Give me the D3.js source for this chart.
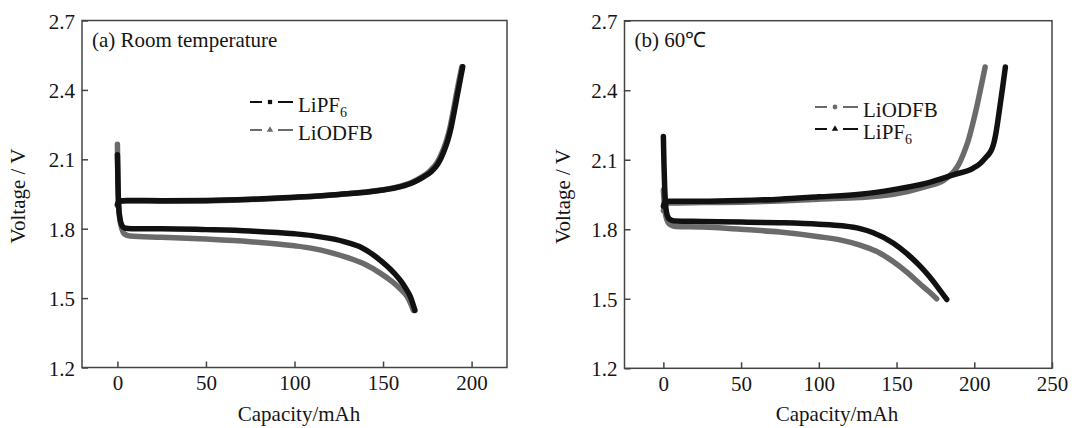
<!DOCTYPE html>
<html>
<head>
<meta charset="utf-8">
<script src="https://cdn.jsdelivr.net/npm/d3@7/dist/d3.min.js"></script>
<style>
  html, body { margin: 0; padding: 0; background: #fff; }
  svg text { font-family: "Liberation Serif", "Times New Roman", serif; fill: #151515; }
</style>
</head>
<body>
<svg id="chart" width="1072" height="428"></svg>
<script>
// Charge / discharge profiles, [capacity (mAh), voltage (V)]

// (a) room temperature
const rtLiPF6Charge = [[0,1.905],[1,1.92],[5,1.922],[25,1.921],[50,1.922],[75,1.927],[100,1.936],[125,1.948],[148,1.965],[160,1.982],[167,2.0],[172,2.02],[177,2.045],[181,2.08],[184.4,2.135],[186.5,2.18],[188.5,2.24],[190.3,2.31],[192,2.38],[193.5,2.44],[195,2.5]];
const rtLiODFBCharge = [[0,1.90],[1,1.918],[5,1.92],[25,1.919],[50,1.92],[75,1.926],[100,1.935],[125,1.948],[148,1.966],[160,1.984],[167,2.003],[172,2.024],[176.5,2.05],[180.5,2.085],[183.9,2.14],[186,2.185],[188,2.245],[189.8,2.315],[191.5,2.385],[193,2.445],[194.5,2.5]];
const rtLiPF6Discharge = [[0,2.12],[0.3,2.0],[0.7,1.9],[1.3,1.85],[2.5,1.815],[4,1.803],[8,1.80],[25,1.80],[50,1.796],[75,1.79],[100,1.778],[110,1.77],[120,1.758],[130,1.74],[138,1.718],[144,1.69],[149,1.66],[154,1.626],[157,1.602],[160,1.574],[163,1.54],[165.5,1.505],[168,1.447]];
const rtLiODFBDischarge = [[0,2.165],[0.3,2.0],[0.7,1.9],[1.4,1.84],[2.5,1.8],[4,1.777],[7,1.768],[25,1.763],[50,1.755],[75,1.744],[100,1.726],[110,1.715],[120,1.698],[130,1.675],[140,1.645],[148.6,1.607],[155,1.572],[160,1.538],[164,1.502],[167.2,1.447]];

// (b) 60 °C
const htLiPF6Charge = [[0,1.90],[1,1.918],[4,1.921],[25,1.921],[50,1.924],[75,1.93],[100,1.94],[126.5,1.951],[148,1.971],[169.4,1.999],[186.5,2.035],[199.4,2.064],[204,2.085],[208,2.114],[210,2.13],[211.5,2.15],[212.7,2.175],[213.8,2.21],[215,2.26],[216.5,2.33],[218.3,2.415],[220,2.5]];
const htLiODFBCharge = [[0,1.88],[1,1.905],[4,1.913],[25,1.915],[50,1.917],[75,1.922],[100,1.93],[126.5,1.937],[148,1.951],[169.4,1.985],[180,2.01],[184,2.03],[187,2.05],[190,2.08],[193,2.125],[196,2.18],[199,2.255],[202,2.34],[204.5,2.42],[207,2.5]];
const htLiPF6Discharge = [[0,2.2],[0.4,2.08],[0.9,1.97],[1.5,1.9],[2.5,1.86],[4,1.843],[7,1.836],[25,1.834],[50,1.831],[75,1.828],[100,1.822],[115,1.815],[126.5,1.803],[135,1.785],[148,1.74],[157,1.693],[165,1.642],[171,1.597],[175.8,1.556],[182.3,1.497]];
const htLiODFBDischarge = [[0,1.97],[0.6,1.91],[1.5,1.86],[3,1.83],[5,1.818],[8,1.812],[25,1.81],[50,1.80],[75,1.788],[100,1.768],[115,1.752],[126.5,1.732],[137,1.705],[148,1.66],[157,1.613],[165,1.565],[171,1.53],[175.8,1.50]];

// Axis ticks
const xTicksRT = [0, 50, 100, 150, 200];
const xTicksHT = [0, 50, 100, 150, 200, 250];
const yTicks = [1.2, 1.5, 1.8, 2.1, 2.4, 2.7];

const BLACK = "#111111";
const GRAY = "#6b6b6b";
const FONT = 21;

const svg = d3.select("#chart");

const panels = [
  {
    title: "(a) Room temperature",
    xDomain: [-20, 220], xRange: [82, 507],
    yRange: [367.5, 20.5],
    xTicks: xTicksRT,
    xLabelX: 299, yLabelX: 25,
    series: [
      { data: rtLiODFBCharge, color: GRAY },
      { data: rtLiODFBDischarge, color: GRAY },
      { data: rtLiPF6Charge, color: BLACK },
      { data: rtLiPF6Discharge, color: BLACK }
    ],
    legend: [
      { name: "LiPF", sub: "6", color: BLACK, symbol: d3.symbolSquare, y: 102 },
      { name: "LiODFB", sub: "", color: GRAY, symbol: d3.symbolTriangle, y: 130 }
    ],
    legendX: 250
  },
  {
    title: "(b) 60\u2103",
    xDomain: [-25, 250], xRange: [624.5, 1052],
    yRange: [368.3, 20.7],
    xTicks: xTicksHT,
    xLabelX: 837, yLabelX: 570,
    series: [
      { data: htLiODFBCharge, color: GRAY },
      { data: htLiODFBDischarge, color: GRAY },
      { data: htLiPF6Charge, color: BLACK },
      { data: htLiPF6Discharge, color: BLACK }
    ],
    legend: [
      { name: "LiODFB", sub: "", color: GRAY, symbol: d3.symbolCircle, y: 107 },
      { name: "LiPF", sub: "6", color: BLACK, symbol: d3.symbolTriangle, y: 129 }
    ],
    legendX: 815
  }
];

panels.forEach(p => {
  const x = d3.scaleLinear().domain(p.xDomain).range(p.xRange);
  const y = d3.scaleLinear().domain([1.2, 2.7]).range(p.yRange);
  const g = svg.append("g");

  const [x0, x1] = p.xRange;
  const [yb, yt] = p.yRange;

  // curves
  const line = d3.line()
    .x(d => x(d[0]))
    .y(d => y(d[1]))
    .curve(d3.curveMonotoneX);

  p.series.forEach(s => {
    g.append("path")
      .attr("d", line(s.data))
      .attr("fill", "none")
      .attr("stroke", s.color)
      .attr("stroke-width", 5.5)
      .attr("stroke-linejoin", "round")
      .attr("stroke-linecap", "round");
  });

  // frame
  g.append("rect")
    .attr("x", x0).attr("y", yt)
    .attr("width", x1 - x0).attr("height", yb - yt)
    .attr("fill", "none")
    .attr("stroke", "#444")
    .attr("stroke-width", 1.5);

  // bottom axis, ticks pointing inward
  const xAxis = g.append("g")
    .attr("transform", `translate(0,${yb})`)
    .call(d3.axisBottom(x).tickValues(p.xTicks).tickFormat(d3.format("d"))
      .tickSizeInner(-6).tickSizeOuter(0));
  xAxis.select(".domain").remove();
  xAxis.selectAll(".tick line").attr("stroke", "#444").attr("stroke-width", 1.5);
  xAxis.selectAll(".tick text")
    .attr("y", 22.5).attr("dy", null)
    .style("font-size", FONT + "px").attr("fill", "#151515");
  xAxis.attr("font-family", null).attr("font-size", null);

  // left axis
  const yAxis = g.append("g")
    .attr("transform", `translate(${x0},0)`)
    .call(d3.axisLeft(y).tickValues(yTicks).tickFormat(d3.format(".1f"))
      .tickSizeInner(-6).tickSizeOuter(0));
  yAxis.select(".domain").remove();
  yAxis.selectAll(".tick line").attr("stroke", "#444").attr("stroke-width", 1.5);
  yAxis.selectAll(".tick text")
    .attr("x", -7).attr("dy", "0.36em")
    .style("font-size", FONT + "px").attr("fill", "#151515");
  yAxis.attr("font-family", null).attr("font-size", null);

  // panel title
  g.append("text")
    .attr("x", x0 + 10).attr("y", yt + 26)
    .style("font-size", FONT + "px")
    .text(p.title);

  // axis titles
  g.append("text")
    .attr("x", p.xLabelX).attr("y", 421)
    .attr("text-anchor", "middle")
    .style("font-size", FONT + "px")
    .text("Capacity/mAh");

  g.append("text")
    .attr("transform", `translate(${p.yLabelX},${(yt + yb) / 2 + 2}) rotate(-90)`)
    .attr("text-anchor", "middle")
    .style("font-size", FONT + "px")
    .text("Voltage / V");

  // legend
  p.legend.forEach(l => {
    const lg = g.append("g");
    const lx = p.legendX;
    lg.append("line")
      .attr("x1", lx).attr("x2", lx + 12)
      .attr("y1", l.y).attr("y2", l.y)
      .attr("stroke", l.color).attr("stroke-width", 2);
    lg.append("line")
      .attr("x1", lx + 28).attr("x2", lx + 43)
      .attr("y1", l.y).attr("y2", l.y)
      .attr("stroke", l.color).attr("stroke-width", 2);
    lg.append("path")
      .attr("d", d3.symbol().type(l.symbol).size(18)())
      .attr("transform", `translate(${lx + 20},${l.y})`)
      .attr("fill", l.color);
    const t = lg.append("text")
      .attr("x", lx + 48).attr("y", l.y + 10)
      .style("font-size", FONT + "px")
      .text(l.name);
    if (l.sub) {
      t.append("tspan")
        .attr("dy", 5)
        .style("font-size", "14px")
        .text(l.sub);
    }
  });
});
</script>
</body>
</html>
